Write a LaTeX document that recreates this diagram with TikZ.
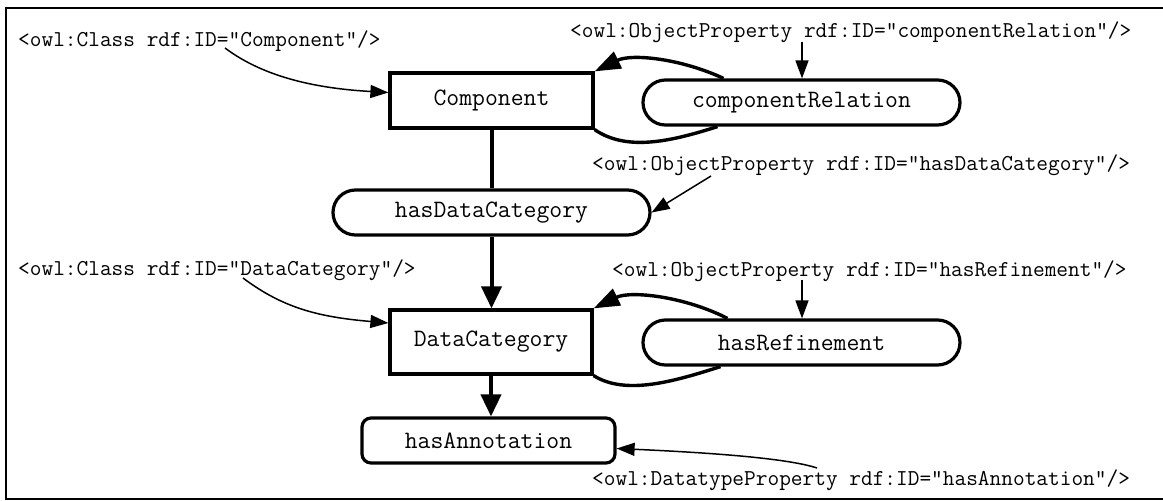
\documentclass[tikz,border=0pt]{standalone}
\usepackage{fontspec}
\usepackage{tikz}
\usetikzlibrary{positioning,arrows.meta,shapes.misc}

\begin{document}
\begin{tikzpicture}[
  x=1pt, y=-1pt,
  cls/.style={draw, line width=3.2pt, minimum width=203pt, inner sep=0pt,
              font=\ttfamily\fontsize{25}{30}\selectfont},
  prop/.style={draw, rounded rectangle, line width=3.2pt, minimum width=317pt, minimum height=45pt,
               inner sep=0pt, font=\ttfamily\fontsize{25}{30}\selectfont},
  dprop/.style={draw, rounded corners=9pt, line width=3.2pt, minimum width=253pt, minimum height=45pt,
                inner sep=0pt, font=\ttfamily\fontsize{25}{30}\selectfont},
  owl/.style={anchor=base west, inner sep=0pt, font=\ttfamily\fontsize{22.7}{26}\selectfont},
  arr/.style={-{Triangle[length=22pt,width=20pt]}, line width=4pt},
  loopy/.style={-{Triangle[length=26pt,width=18pt]}, line width=3.4pt},
  ref/.style={-{Triangle[length=18pt,width=13pt]}, line width=1.5pt}
]
  \useasboundingbox (0,0) rectangle (1163,501);
  \draw[line width=2pt] (6,8) rectangle (1172,499);

  \node[cls, minimum height=55pt] (comp) at (491.5,100.5) {Component};
  \node[prop] (crel) at (801.5,102.5) {componentRelation};
  \node[prop] (hdc) at (491.5,212.5) {hasDataCategory};
  \node[cls, minimum height=64pt, minimum width=202pt] (dcat) at (491,342) {DataCategory};
  \node[prop] (href) at (801.5,342.5) {hasRefinement};
  \node[dprop] (hann) at (488.5,440.5) {hasAnnotation};

  \node[owl] (lblComp) at (18,46) {<owl:Class rdf:ID="Component"/>};
  \node[owl] (lblCrel) at (570,37) {<owl:ObjectProperty rdf:ID="componentRelation"/>};
  \node[owl] (lblHdc) at (592,170) {<owl:ObjectProperty rdf:ID="hasDataCategory"/>};
  \node[owl] (lblDcat) at (18,275) {<owl:Class rdf:ID="DataCategory"/>};
  \node[owl] (lblHref) at (612,276) {<owl:ObjectProperty rdf:ID="hasRefinement"/>};
  \node[owl] (lblHann) at (592,485) {<owl:DatatypeProperty rdf:ID="hasAnnotation"/>};

  \draw[line width=4pt] (comp.south) -- (hdc.north);
  \draw[arr] (hdc.south) -- (hdc.south |- dcat.north);
  \draw[arr] (dcat.south) -- (dcat.south |- hann.north);

  \draw[loopy] ([xshift=-78pt]crel.north) .. controls +(-43,-20) and +(37,-18) .. (comp.north east);
  \draw[line width=3.4pt] (comp.south east) .. controls +(32,22) and +(-47,15) .. ([xshift=-84pt]crel.south);
  \draw[loopy] ([xshift=-74pt]href.north) .. controls +(-43,-22) and +(37,-18) .. (dcat.north east);
  \draw[line width=3.4pt] (dcat.south east) .. controls +(32,20) and +(-47,15) .. ([xshift=-81pt]href.south);

  \draw[ref] ([xshift=207pt,yshift=-2pt]lblComp.base west) .. controls +(40,30) and +(-70,-4) .. ([yshift=8pt]comp.west);
  \draw[ref] ([xshift=225pt,yshift=-3pt]lblDcat.base west) .. controls +(40,30) and +(-70,-6) .. ([yshift=19pt]dcat.west);
  \draw[ref] ([xshift=232pt,yshift=-5pt]lblCrel.base west) -- ([xshift=0.5pt]crel.north);
  \draw[ref] ([xshift=190pt,yshift=-4pt]lblHref.base west) -- ([xshift=0.5pt]href.north);
  \draw[ref] ([xshift=119pt,yshift=-6pt]lblHdc.base west) -- (hdc.east);
  \draw[ref] ([xshift=225pt,yshift=17pt]lblHann.base west) .. controls +(-30,-10) and +(90,4) .. ([yshift=-8pt]hann.east);
\end{tikzpicture}
\end{document}
